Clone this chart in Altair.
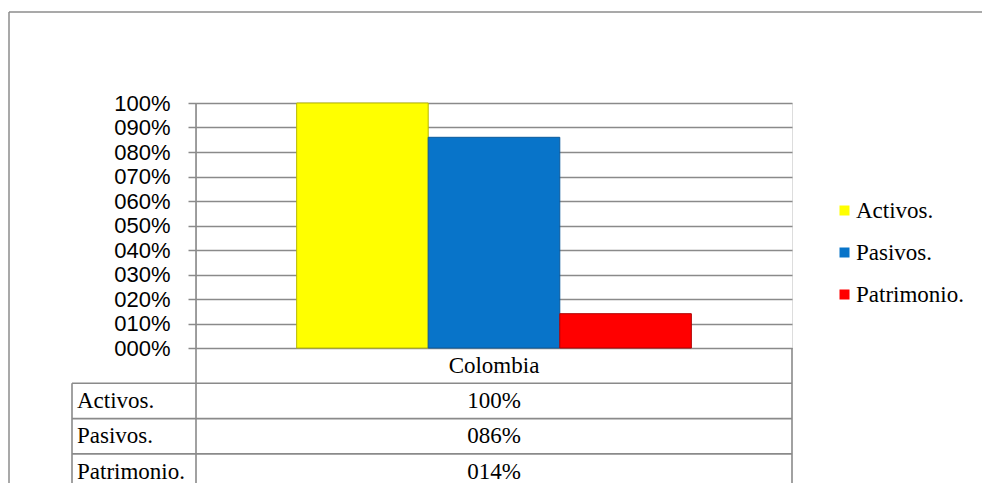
import altair as alt
import pandas as pd

# Series shown in the chart and their shares for Colombia
pais = "Colombia"
series = ["Activos.", "Pasivos.", "Patrimonio."]
valores = [1.00, 0.86, 0.14]
colores = ["#FFFF00", "#0874C9", "#FF0000"]
bordes = ["#B8B800", "#0A5A9C", "#B00000"]

# Rows of the data table under the plot
filas = [pais] + series

W, H = 596, 245
ROW = 35.3
GRID = "#8A8A8A"
SERIF = "'Liberation Serif', 'DejaVu Serif', serif"
SANS = "'Liberation Sans', sans-serif"

bars_df = pd.DataFrame({"serie": series, "valor": valores})

tabla_df = pd.DataFrame({
    "fila": filas,
    "etiqueta": [""] + series,
    "valor": [None] + valores,
    "cabecera": [pais, "", "", ""],
})

y_tabla = alt.Scale(domain=filas, range=[H, H + ROW * len(filas)],
                    paddingInner=0, paddingOuter=0)

bars = alt.Chart(bars_df).mark_bar(strokeWidth=1).encode(
    x=alt.X("serie:N", sort=series, axis=None,
            scale=alt.Scale(paddingInner=0, paddingOuter=0.765)),
    y=alt.Y("valor:Q",
            scale=alt.Scale(domain=[0, 1], nice=False),
            axis=alt.Axis(values=[i / 10 for i in range(11)], format="04.0%",
                          title=None, domain=False, grid=True,
                          gridColor=GRID, gridWidth=1.5,
                          tickColor=GRID, tickWidth=1.5, tickSize=8,
                          labelFont=SANS, labelFontSize=22, labelColor="#000",
                          labelPadding=18)),
    color=alt.Color("serie:N", sort=series,
                    scale=alt.Scale(domain=series, range=colores),
                    legend=alt.Legend(title=None, orient="none",
                                      legendX=637, legendY=96,
                                      symbolType="square", symbolSize=100,
                                      symbolStrokeWidth=0,
                                      labelFont=SERIF, labelFontSize=23,
                                      labelColor="#000", labelOffset=0,
                                      rowPadding=18)),
    stroke=alt.Stroke("serie:N", scale=alt.Scale(domain=series, range=bordes),
                      legend=None),
)

# Table text: header, row names and values
cab = alt.Chart(tabla_df).mark_text(font=SERIF, fontSize=23, color="#000",
                                    align="center", baseline="middle").encode(
    y=alt.Y("fila:N", scale=y_tabla, axis=None),
    x=alt.value(W / 2),
    text="cabecera:N",
)
nombres = alt.Chart(tabla_df).mark_text(font=SERIF, fontSize=23, color="#000",
                                        align="left", baseline="middle").encode(
    y=alt.Y("fila:N", scale=y_tabla, axis=None),
    x=alt.value(-119),
    text="etiqueta:N",
)
cifras = alt.Chart(tabla_df).transform_filter("datum.valor != null").mark_text(
    font=SERIF, fontSize=23, color="#000", align="center", baseline="middle"
).encode(
    y=alt.Y("fila:N", scale=y_tabla, axis=None),
    x=alt.value(W / 2),
    text=alt.Text("valor:Q", format="04.0%"),
)

# Horizontal table lines at the top of each data row
lineas_h = alt.Chart(tabla_df).transform_filter(
    alt.datum.fila != pais
).mark_rule(color=GRID, strokeWidth=1.6).encode(
    y=alt.Y("fila:N", scale=y_tabla, axis=None, bandPosition=0),
    x=alt.value(-124),
    x2=alt.value(W),
)

bottom = 483 - 103
vert = alt.Chart(pd.DataFrame({"k": [0]})).mark_rule(color=GRID, strokeWidth=1.6)
v_axis = vert.encode(x=alt.value(0), y=alt.value(0), y2=alt.value(bottom))
v_left = vert.encode(x=alt.value(-124), y=alt.value(H + ROW), y2=alt.value(bottom))
v_right = vert.encode(x=alt.value(W), y=alt.value(H), y2=alt.value(bottom))

# Outer frame around the figure
frame = alt.Chart(pd.DataFrame({"k": [0]})).mark_rule(color="#8C8C8C", strokeWidth=1.5)
f_top = frame.encode(y=alt.value(-91), x=alt.value(-187), x2=alt.value(790))
f_left = frame.encode(x=alt.value(-187), y=alt.value(-91), y2=alt.value(bottom))

chart = alt.layer(
    f_top, f_left, bars, lineas_h, v_axis, v_left, v_right, cab, nombres, cifras
).resolve_scale(
    y="independent", stroke="independent"
).properties(
    width=W, height=H,
    autosize=alt.AutoSizeParams(type="none"),
    padding={"left": 196, "top": 103, "right": 982 - 196 - W, "bottom": 483 - 103 - H},
).configure_view(stroke=None).configure(background="white")

chart.save("out.html", embed_options={"renderer": "svg", "actions": False})
